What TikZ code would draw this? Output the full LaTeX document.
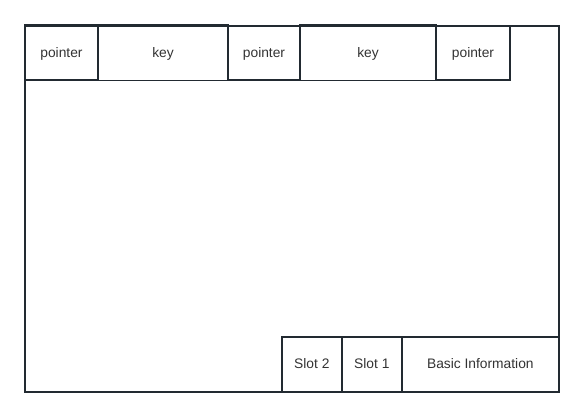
\documentclass[tikz,border=0pt]{standalone}
\usepackage{fontspec}
\setmainfont{Liberation Sans}
\definecolor{edge}{HTML}{222A31}
\definecolor{txt}{HTML}{333333}
\begin{document}
\begin{tikzpicture}[x=1pt,y=-1pt,
  cell/.style={draw=edge,line width=1.9pt,inner sep=0pt,font=\fontsize{13.8}{16}\selectfont,text=txt,anchor=center,text height=12.5pt,text depth=3pt},
  frame/.style={draw=edge,line width=1.9pt,inner sep=0pt}]
\useasboundingbox (0,0) rectangle (584,418);
\node[frame,minimum width=533.7pt,minimum height=365.7pt] (outer) at (291.85,208.85) {};
\node[cell,minimum width=73pt,minimum height=55pt] (p1) at (61.5,52.5) {pointer};
\node[cell,minimum width=130pt,minimum height=56pt] (k1) at (163,52.5) {key};
\node[cell,minimum width=72pt,minimum height=54pt] (p2) at (264,53) {pointer};
\node[cell,minimum width=136pt,minimum height=56pt] (k2) at (368,52.5) {key};
\node[cell,minimum width=74pt,minimum height=54pt] (p3) at (473,53) {pointer};
\node[cell,minimum width=59.7pt,minimum height=55pt] (s2) at (311.85,364.2) {Slot 2};
\node[cell,minimum width=60.3pt,minimum height=55pt] (s1) at (371.85,364.2) {Slot 1};
\node[cell,minimum width=156.7pt,minimum height=55pt] (bi) at (480.35,364.2) {Basic Information};
\end{tikzpicture}
\end{document}
